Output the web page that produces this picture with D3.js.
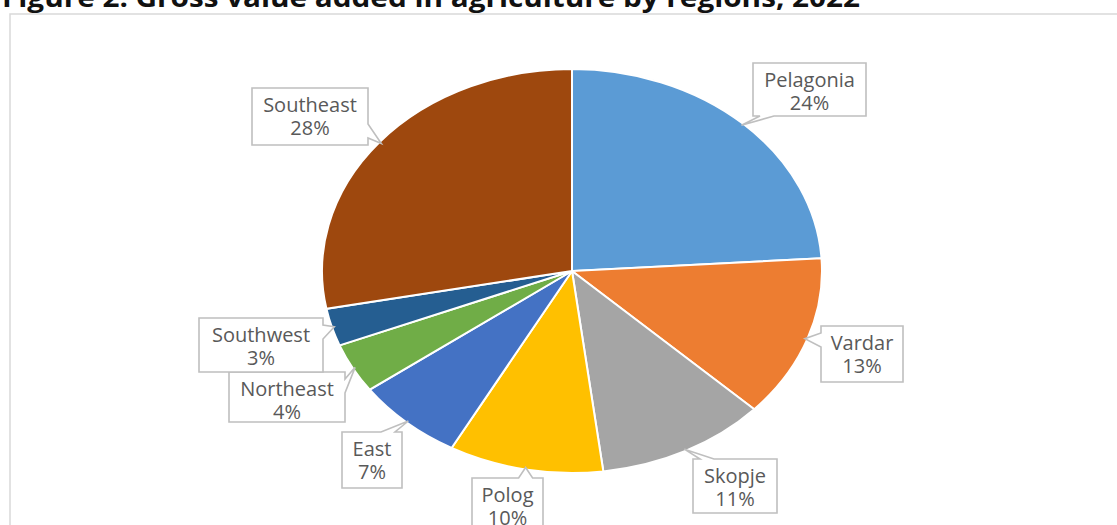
<!DOCTYPE html>
<html>
<head>
<meta charset="utf-8">
<script src="https://cdn.jsdelivr.net/npm/d3@7"></script>
<style>
  html, body { margin: 0; padding: 0; background: #ffffff; overflow: hidden; }
  svg { display: block; }
</style>
</head>
<body>
<svg id="chart" width="1117" height="525"></svg>
<script>
// Regional shares of gross value added in agriculture, 2022 (%)
const regions = ["Pelagonia", "Vardar", "Skopje", "Polog", "East", "Northeast", "Southwest", "Southeast"];
const shares = [24, 13, 11, 10, 7, 4, 3, 28];
const sliceColors = ["#5B9BD5", "#ED7D31", "#A5A5A5", "#FFC000", "#4472C4", "#70AD47", "#255E91", "#9E480E"];
const titleText = "Figure 2. Gross value added in agriculture by regions, 2022";

// Callout box placement (layout only), one per region, and the box side the pointer leaves from
const calloutLayout = [
  { x: 753, y: 63,  w: 113, h: 53, side: "bottom" },
  { x: 821, y: 326, w: 82,  h: 56, side: "left" },
  { x: 693, y: 459, w: 84,  h: 54, side: "top" },
  { x: 472, y: 478, w: 71,  h: 56, side: "top" },
  { x: 342, y: 432, w: 60,  h: 56, side: "top" },
  { x: 229, y: 372, w: 116, h: 50, side: "right" },
  { x: 199, y: 318, w: 124, h: 54, side: "right" },
  { x: 252, y: 88,  w: 116, h: 57, side: "right" }
];

const svg = d3.select("#chart");

// Title (top part runs off the page edge)
svg.append("text")
  .attr("x", 2)
  .attr("y", 7)
  .attr("textLength", 858)
  .attr("lengthAdjust", "spacingAndGlyphs")
  .style("font-family", "'Open Sans', 'Liberation Sans', sans-serif")
  .style("font-weight", 700)
  .style("font-size", "26px")
  .style("fill", "#111")
  .text(titleText);

// Chart frame
svg.append("rect")
  .attr("x", 10)
  .attr("y", 14)
  .attr("width", 1130)
  .attr("height", 540)
  .attr("fill", "none")
  .attr("stroke", "#d9d9d9")
  .attr("stroke-width", 1.5);

// Pie geometry: drawn as a circle then stretched horizontally into an ellipse
const cx = 572, cy = 271;
const ry = 202, rx = 250;
const sx = rx / ry;

const pie = d3.pie().sort(null).value(d => d);
const arcs = pie(shares);
const arc = d3.arc().innerRadius(0).outerRadius(ry);

const pieG = svg.append("g")
  .attr("transform", `translate(${cx},${cy}) scale(${sx},1)`);

pieG.selectAll("path.slice")
  .data(arcs)
  .join("path")
  .attr("class", "slice")
  .attr("d", arc)
  .attr("fill", (d, i) => sliceColors[i])
  .attr("stroke", "#ffffff")
  .attr("stroke-width", 2)
  .attr("vector-effect", "non-scaling-stroke");

// Point on the ellipse edge at a slice's mid angle
function edgePoint(d, k) {
  const a = (d.startAngle + d.endAngle) / 2;
  return [cx + rx * k * Math.sin(a), cy - ry * k * Math.cos(a)];
}

// Callout outline: rectangle with a pointer wedge on one side
function calloutPath(b, tip) {
  const x0 = b.x, y0 = b.y, x1 = b.x + b.w, y1 = b.y + b.h;
  const hw = 7, m = 14;
  const clampX = v => Math.max(x0 + m, Math.min(x1 - m, v));
  const clampY = v => Math.max(y0 + m, Math.min(y1 - m, v));
  const p = d3.path();
  p.moveTo(x0, y0);
  if (b.side === "top") {
    const c = clampX(tip[0]);
    p.lineTo(c - hw, y0); p.lineTo(tip[0], tip[1]); p.lineTo(c + hw, y0);
  }
  p.lineTo(x1, y0);
  if (b.side === "right") {
    const c = clampY(tip[1]);
    p.lineTo(x1, c - hw); p.lineTo(tip[0], tip[1]); p.lineTo(x1, c + hw);
  }
  p.lineTo(x1, y1);
  if (b.side === "bottom") {
    const c = clampX(tip[0]);
    p.lineTo(c + hw, y1); p.lineTo(tip[0], tip[1]); p.lineTo(c - hw, y1);
  }
  p.lineTo(x0, y1);
  if (b.side === "left") {
    const c = clampY(tip[1]);
    p.lineTo(x0, c + hw); p.lineTo(tip[0], tip[1]); p.lineTo(x0, c - hw);
  }
  p.closePath();
  return p.toString();
}

const labelG = svg.append("g").attr("class", "callouts");

arcs.forEach((d, i) => {
  const b = calloutLayout[i];
  const tip = edgePoint(d, 0.99);
  const g = labelG.append("g");
  g.append("path")
    .attr("d", calloutPath(b, tip))
    .attr("fill", "#ffffff")
    .attr("stroke", "#bfbfbf")
    .attr("stroke-width", 1.6)
    .attr("stroke-linejoin", "miter");
  const t = g.append("text")
    .attr("text-anchor", "middle")
    .style("font-family", "'Open Sans', 'Liberation Sans', sans-serif")
    .style("font-size", "20px")
    .style("fill", "#595959");
  t.append("tspan")
    .attr("x", b.x + b.w / 2)
    .attr("y", b.y + 24)
    .text(regions[i]);
  t.append("tspan")
    .attr("x", b.x + b.w / 2)
    .attr("y", b.y + 47)
    .text(d.data + "%");
});
</script>
</body>
</html>
